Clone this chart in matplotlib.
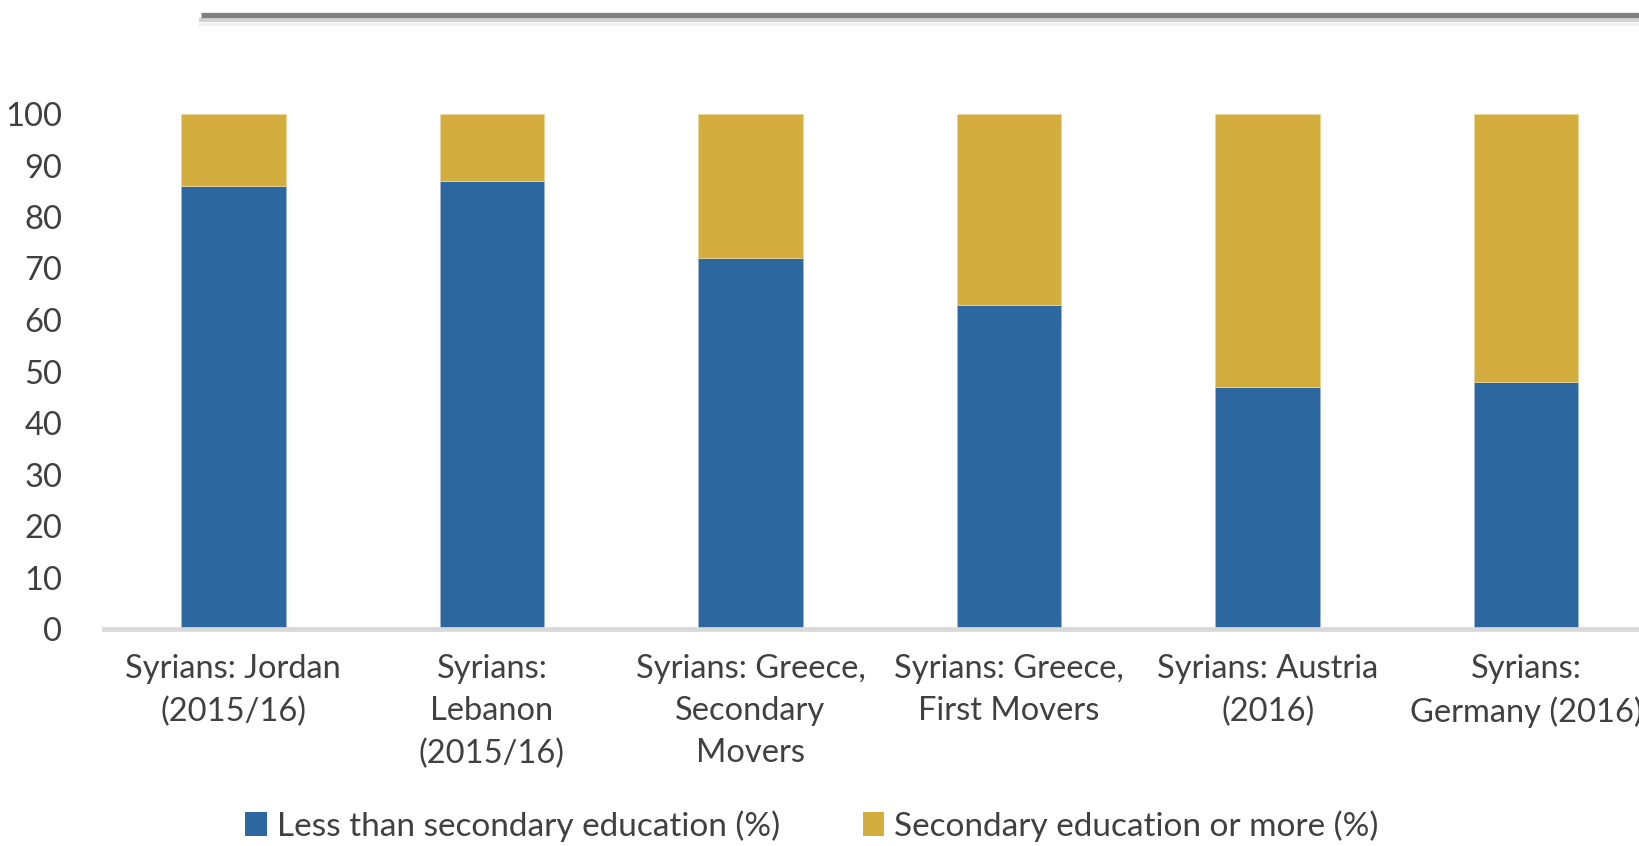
import matplotlib
matplotlib.use("Agg")
import matplotlib.pyplot as plt
from matplotlib.lines import Line2D
from matplotlib.patches import Patch
import numpy as np

categories = [
    "Syrians: Jordan\n(2015/16)",
    "Syrians:\nLebanon\n(2015/16)",
    "Syrians: Greece,\nSecondary\nMovers",
    "Syrians: Greece,\nFirst Movers",
    "Syrians: Austria\n(2016)",
    "Syrians:\nGermany (2016)",
]
less_than_secondary = [86, 87, 72, 63, 47, 48]
secondary_or_more = [14, 13, 28, 37, 53, 52]
series_labels = ["Less than secondary education (%)", "Secondary education or more (%)"]
yticks = [0, 10, 20, 30, 40, 50, 60, 70, 80, 90, 100]

BLUE = "#2D679F"
GOLD = "#D4AD3F"
TXT = "#404040"

plt.rcParams['font.family'] = ['Lato', 'DejaVu Sans']

W, H = 1640, 846
fig = plt.figure(figsize=(W / 100, H / 100), dpi=100)
ax = fig.add_axes([104 / W, 1 - 629 / H, 1 - 104 / W, (629 - 114) / H])

x = np.arange(len(categories))
bw = 0.404
ax.bar(x, less_than_secondary, width=bw, color=BLUE, edgecolor="#9db8d4", linewidth=0.6,
       label=series_labels[0], zorder=2)
ax.bar(x, secondary_or_more, bottom=less_than_secondary, width=bw, color=GOLD,
       edgecolor="#ead49a", linewidth=0.6, label=series_labels[1], zorder=2)

ax.set_xlim(-0.5, 5.44)
ax.set_ylim(0, 100)
ax.set_yticks(yticks)
ax.set_xticks(x)
ax.set_xticklabels(categories, linespacing=1.5)

for s in ["top", "right", "left"]:
    ax.spines[s].set_visible(False)
ax.spines["bottom"].set_color("#d9d9d9")
ax.spines["bottom"].set_linewidth(3.4)
ax.spines["bottom"].set_zorder(3)

ax.tick_params(axis="both", length=0, labelsize=23.5, colors=TXT)
ax.tick_params(axis="y", pad=30)
ax.tick_params(axis="x", pad=18)

handles = [Patch(facecolor=BLUE, edgecolor="none"), Patch(facecolor=GOLD, edgecolor="none")]
fig.legend(handles, series_labels, loc="center", bbox_to_anchor=(812 / W, 1 - 826 / H),
           ncol=2, frameon=False, fontsize=24, handlelength=0.64, handleheight=0.75,
           handletextpad=0.3, columnspacing=2.5, labelcolor=TXT, borderpad=0)

# top decorative rule
fig.add_artist(Line2D([198 / W, 1], [1 - 24.5 / H] * 2, lw=2.0, color="#efefef",
                      transform=fig.transFigure, solid_capstyle="butt"))
fig.add_artist(Line2D([199 / W, 1], [1 - 20.5 / H] * 2, lw=3.0, color="#d2d2d2",
                      transform=fig.transFigure, solid_capstyle="butt"))
fig.add_artist(Line2D([201 / W, 1], [1 - 15 / H] * 2, lw=3.8, color="#808080",
                      transform=fig.transFigure, solid_capstyle="butt"))

fig.savefig("out.png", dpi=100, facecolor="white")
